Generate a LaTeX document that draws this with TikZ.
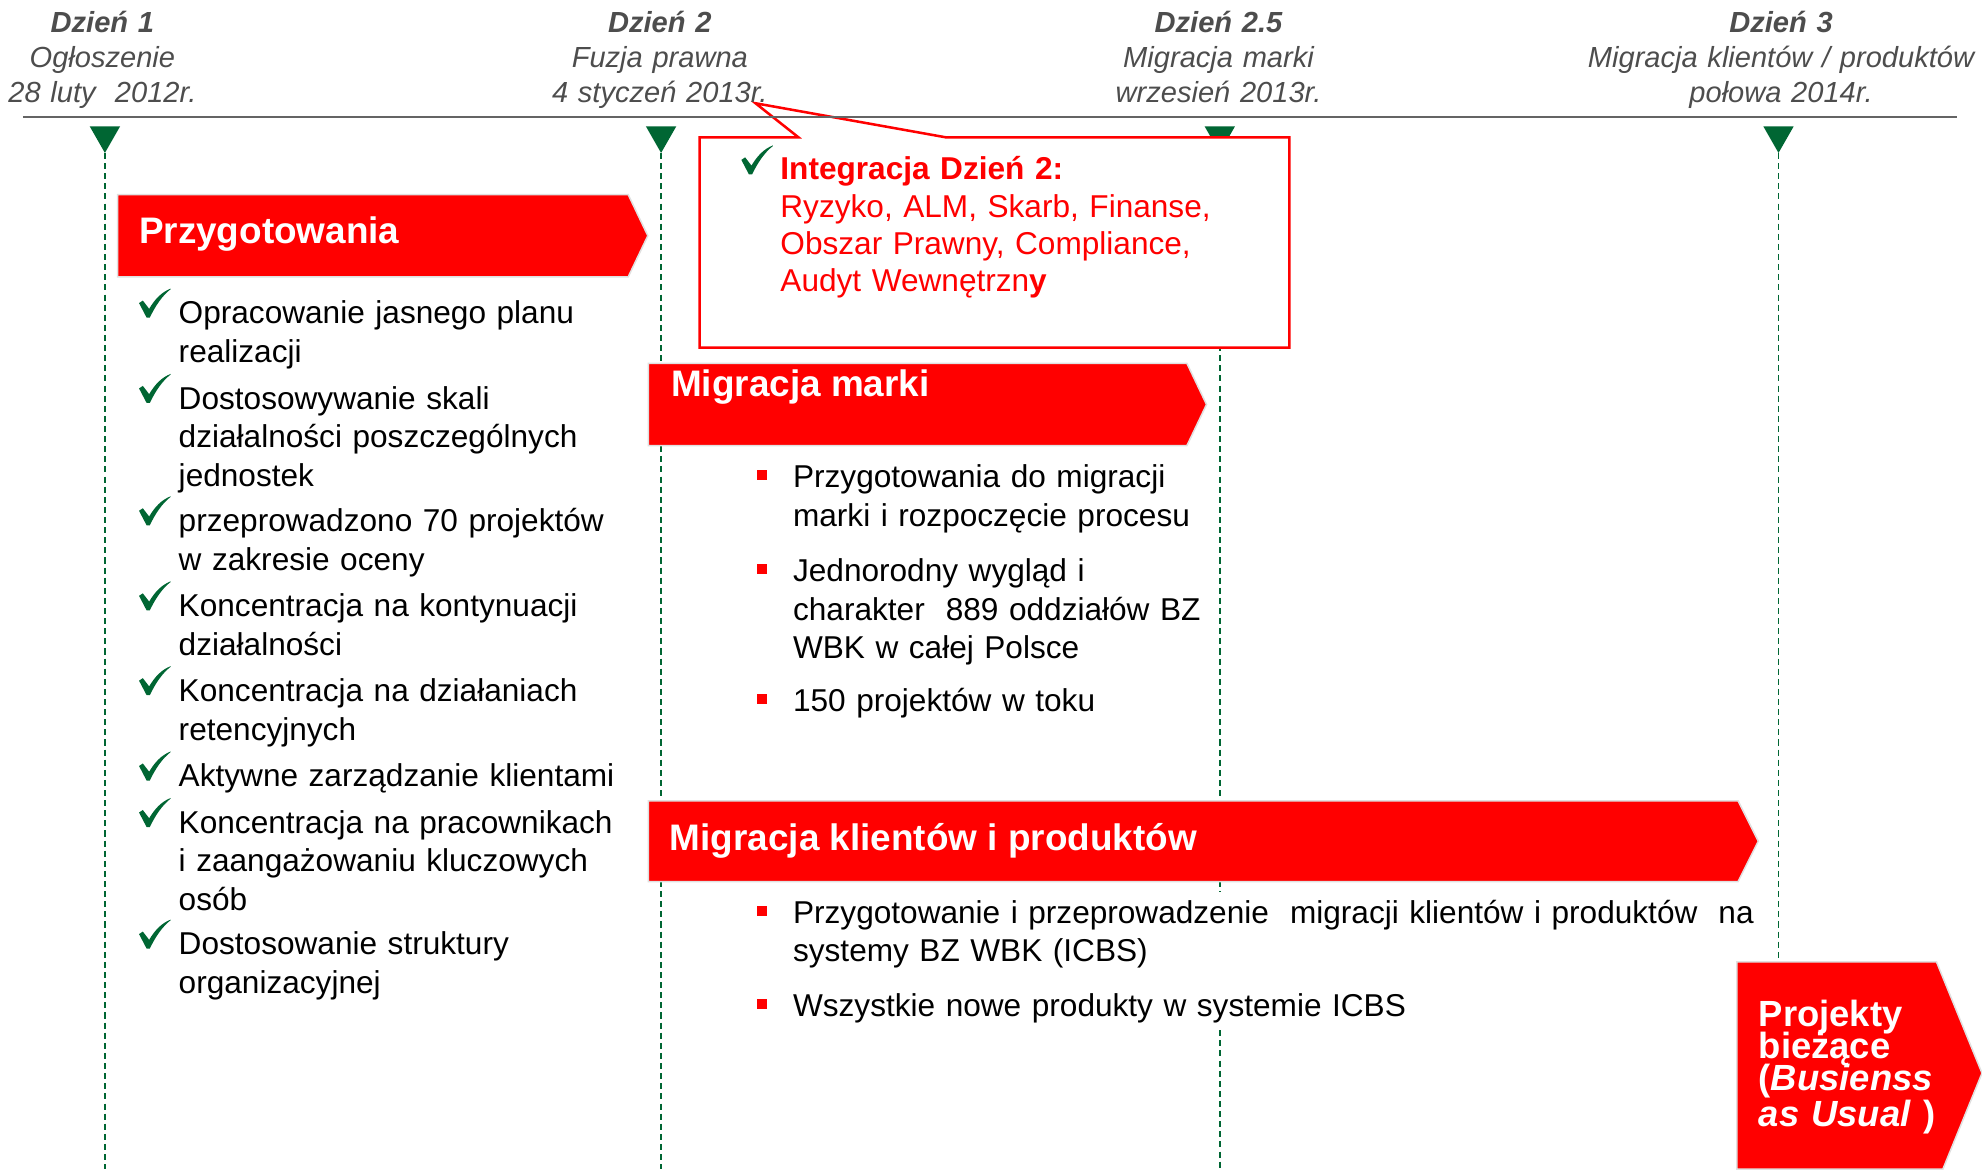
\documentclass[tikz,border=0pt]{standalone}
\usepackage{fontspec}
\setmainfont{Liberation Sans}
\usepackage{tikz}

\definecolor{bzred}{RGB}{255,0,0}
\definecolor{bzgreen}{RGB}{0,102,51}
\definecolor{hdrgray}{RGB}{77,77,77}
\definecolor{axisgray}{RGB}{100,100,100}

\tikzstyle{hdrtext}=[inner sep=0, anchor=base, text width=180pt, align=center, text=hdrgray, font=\fontsize{11.5}{13.75}\selectfont\itshape]
\tikzstyle{bannertitle}=[inner sep=0, anchor=base west, text=white, font=\fontsize{14.6}{17}\selectfont\bfseries]
\tikzstyle{listitem}=[inner sep=0, anchor=base west, text width=260pt, align=left, font=\fontsize{12.5}{15.25}\selectfont]
\tikzstyle{banner}=[fill=bzred, draw=black!12, line width=0.6pt]
\tikzstyle{milestone}=[fill=bzgreen]
\tikzstyle{dayline}=[draw=bzgreen, line width=0.7pt, dash pattern=on 2.4pt off 1.6pt]
\tikzstyle{sqbullet}=[fill=bzred]
\tikzset{chkmark/.pic={\fill[bzgreen] (-12.5,0) -- (-9.5,-2) -- (-4.5,4.5) .. controls (0,-3) and (5,-8.5) .. (12.5,-11.5) -- (12.5,-11) .. controls (6,-6) and (0.5,2) .. (-4,11.5) -- (-6.5,11.5) -- cycle;}}

\begin{document}
\begin{tikzpicture}[x=0.5pt, y=-0.5pt]
  \useasboundingbox (0,0) rectangle (1568,925);

  % milestones and day lines
  \foreach \x/\name in {83/d1, 523/d2, 965/d25, 1407/d3} {
    \fill[milestone] (\x-12,100) -- (\x+12,100) -- (\x,121) -- cycle;
    \coordinate (\name) at (\x,121);
  }
  \coordinate (d1end) at (83,925);
  \coordinate (d2end) at (523,925);
  \coordinate (d25a) at (965,706);
  \coordinate (d25b) at (965,815);
  \coordinate (d25end) at (965,925);
  \coordinate (d3end) at (1407,761);
  \draw[dayline] (d1) -- (d1end);
  \draw[dayline] (d2) -- (d2end);
  \draw[dayline] (d25) -- (d25a);
  \draw[dayline] (d25b) -- (d25end);
  \draw[dayline] (d3) -- (d3end);

  % callout for day 2
  \draw[bzred, line width=1pt, fill=white] (553.5,108.6) -- (631.6,108.6) -- (597.7,81.7) -- (748,108.6) -- (1020,108.6) -- (1020,275) -- (553.5,275) -- cycle;
  \pic at (599,126.5) {chkmark};
  \node[listitem, text=bzred, font=\fontsize{12.5}{14.75}\selectfont] (integr) at (617,142.4)
    {\textbf{Integracja Dzień 2:}\\Ryzyko, ALM, Skarb, Finanse,\\Obszar Prawny, Compliance,\\Audyt Wewnętrzn\textbf{y}};

  % timeline
  \draw[axisgray, line width=0.8pt] (18,92.3) -- (1548,92.3);
  \node[hdrtext] (h1) at (81,26) {\textbf{Dzień 1}\\Ogłoszenie\\28 luty\ \ 2012r.};
  \node[hdrtext] (h2) at (522,26) {\textbf{Dzień 2}\\Fuzja prawna\\4 styczeń 2013r.};
  \node[hdrtext] (h25) at (964,26) {\textbf{Dzień 2.5}\\Migracja marki\\wrzesień 2013r.};
  \node[hdrtext] (h3) at (1409,26) {\textbf{Dzień 3}\\Migracja klientów / produktów\\połowa 2014r.};

  % banners
  \path[banner] (93,154) -- (497,154) -- (512.5,186.5) -- (497,219) -- (93,219) -- cycle;
  \path[banner] (513,287.5) -- (939,287.5) -- (954.5,320) -- (939,352.5) -- (513,352.5) -- cycle;
  \path[banner] (513,633.5) -- (1375,633.5) -- (1391,665.5) -- (1375,697.5) -- (513,697.5) -- cycle;
  \path[banner] (1374,761) -- (1532,761) -- (1568,849) -- (1537,925) -- (1374,925) -- cycle;
  \node[bannertitle] (przyg) at (109.6,192.5) {Przygotowania};
  \node[bannertitle] (marka) at (530.5,313.8) {Migracja marki};
  \node[bannertitle] (klienci) at (529.5,672.5) {Migracja klientów i produktów};
  \node[bannertitle, text width=170pt, align=left, font=\fontsize{14.4}{12.6}\selectfont\bfseries] (bau) at (1391,812)
    {\lineskiplimit=-20pt\relax Projekty\\bieżące\\(\textit{Busienss}\\\textit{as Usual} )};

  % preparations
  \foreach \y in {256.3, 323.8, 420.6, 487.9, 555, 622.5, 659.3, 755.5}
    \pic at (122.5,\y-16.5) {chkmark};
  \node[listitem] (p1) at (141,256.3) {Opracowanie jasnego planu\\realizacji};
  \node[listitem] (p2) at (141,323.8) {Dostosowywanie skali\\działalności poszczególnych\\jednostek};
  \node[listitem] (p3) at (141,420.6) {przeprowadzono 70 projektów\\w zakresie oceny};
  \node[listitem] (p4) at (141,487.9) {Koncentracja na kontynuacji\\działalności};
  \node[listitem] (p5) at (141,555) {Koncentracja na działaniach\\retencyjnych};
  \node[listitem] (p6) at (141,622.5) {Aktywne zarządzanie klientami};
  \node[listitem] (p7) at (141,659.3) {Koncentracja na pracownikach\\i zaangażowaniu kluczowych\\osób};
  \node[listitem] (p8) at (141,755.5) {Dostosowanie struktury\\organizacyjnej};

  % brand migration
  \foreach \y in {386, 460, 563}
    \fill[sqbullet] (599,\y-14) rectangle (607,\y-6);
  \node[listitem] (m1) at (627,386) {Przygotowania do migracji\\marki i rozpoczęcie procesu};
  \node[listitem] (m2) at (627,460) {Jednorodny wygląd i\\charakter\ \ 889 oddziałów BZ\\WBK w całej Polsce};
  \node[listitem] (m3) at (627,563) {150 projektów w toku};

  % client and product migration
  \foreach \y in {730.5, 804}
    \fill[sqbullet] (599,\y-14) rectangle (607,\y-6);
  \node[listitem, text width=385pt] (k1) at (627,730.5) {Przygotowanie i przeprowadzenie\ \ migracji klientów i produktów\ \ na\\systemy BZ WBK (ICBS)};
  \node[listitem] (k2) at (627,804) {Wszystkie nowe produkty w systemie ICBS};
\end{tikzpicture}
\end{document}
